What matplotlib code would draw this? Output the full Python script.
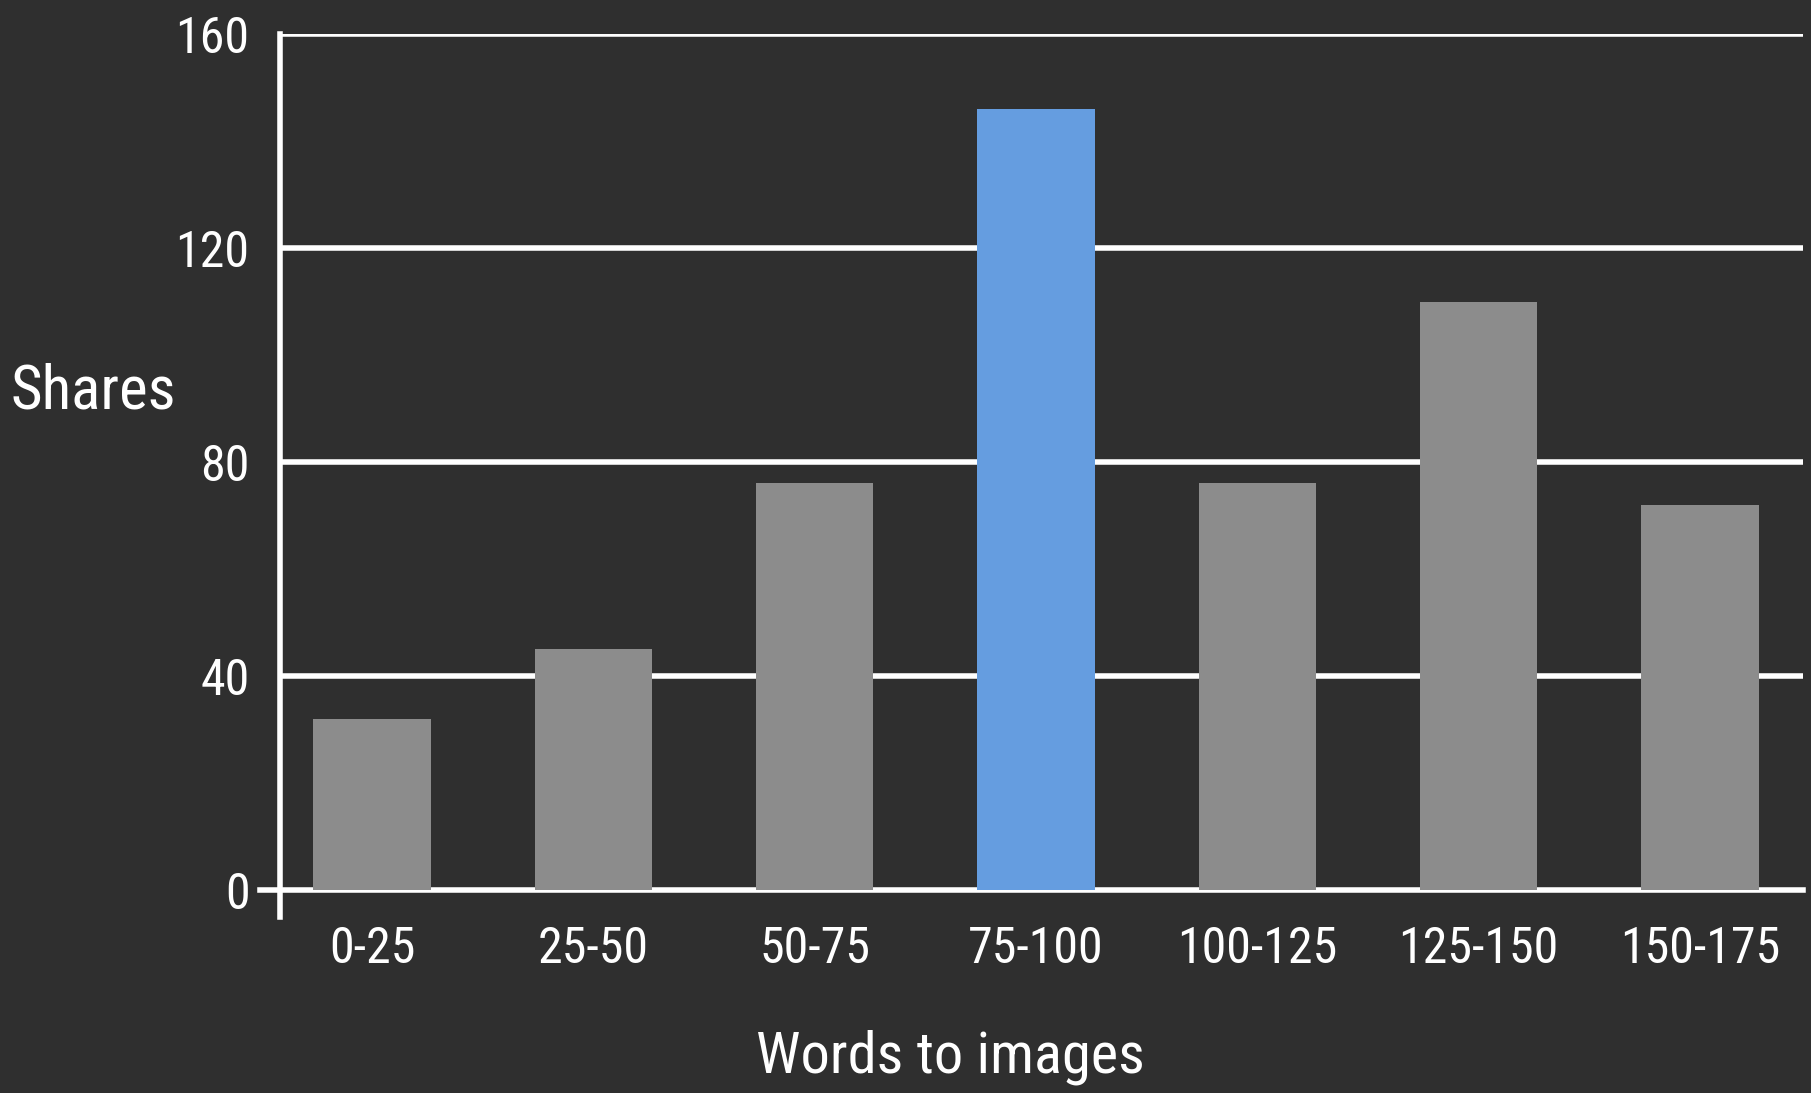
import matplotlib
matplotlib.use("Agg")
import matplotlib.pyplot as plt

plt.rcParams['font.family'] = ['Roboto Condensed', 'DejaVu Sans']
plt.rcParams['font.stretch'] = 'condensed'

categories = ['0-25', '25-50', '50-75', '75-100', '100-125', '125-150', '150-175']
shares = [32, 45, 76, 146, 76, 110, 72]
highlight = '75-100'
yticks = [0, 40, 80, 120, 160]

bg = '#2f2f2f'
grey = '#8c8c8c'
blue = '#659de0'

fig = plt.figure(figsize=(18.11, 10.93), dpi=100, facecolor=bg)
ax = fig.add_axes([0.1546, 0.161, 0.8410, 0.808])
ax.set_facecolor(bg)

x = list(range(len(categories)))
colors = [blue if c == highlight else grey for c in categories]

# grid lines drawn by hand, the 0 line pokes out left of the axis
for y in yticks:
    if y == 0:
        ax.axhline(y, xmin=-0.013, xmax=1, color='white', lw=4, clip_on=False, zorder=1)
    else:
        ax.axhline(y, color='white', lw=4, zorder=1)
ax.bar(x, shares, width=0.53, color=colors, zorder=2)

ax.set_xlim(-0.416, 6.466)
ax.set_ylim(-5, 160)
ax.set_xticks(x)
ax.set_xticklabels(categories)
ax.set_yticks(yticks)
ax.tick_params(axis='both', length=0, colors='white', labelsize=36)
ax.tick_params(axis='y', pad=22)
ax.tick_params(axis='x', pad=6)

for s in ['top', 'right', 'bottom']:
    ax.spines[s].set_visible(False)
ax.spines['left'].set_color('white')
ax.spines['left'].set_linewidth(4)
ax.spines['left'].set_bounds(-5, 160)

fig.text(0.006, 0.642, 'Shares', color='white', fontsize=44, ha='left', va='center')
fig.text(0.525, 0.033, 'Words to images', color='white', fontsize=42, ha='center', va='center')

fig.savefig('out.png', dpi=100, facecolor=bg)
